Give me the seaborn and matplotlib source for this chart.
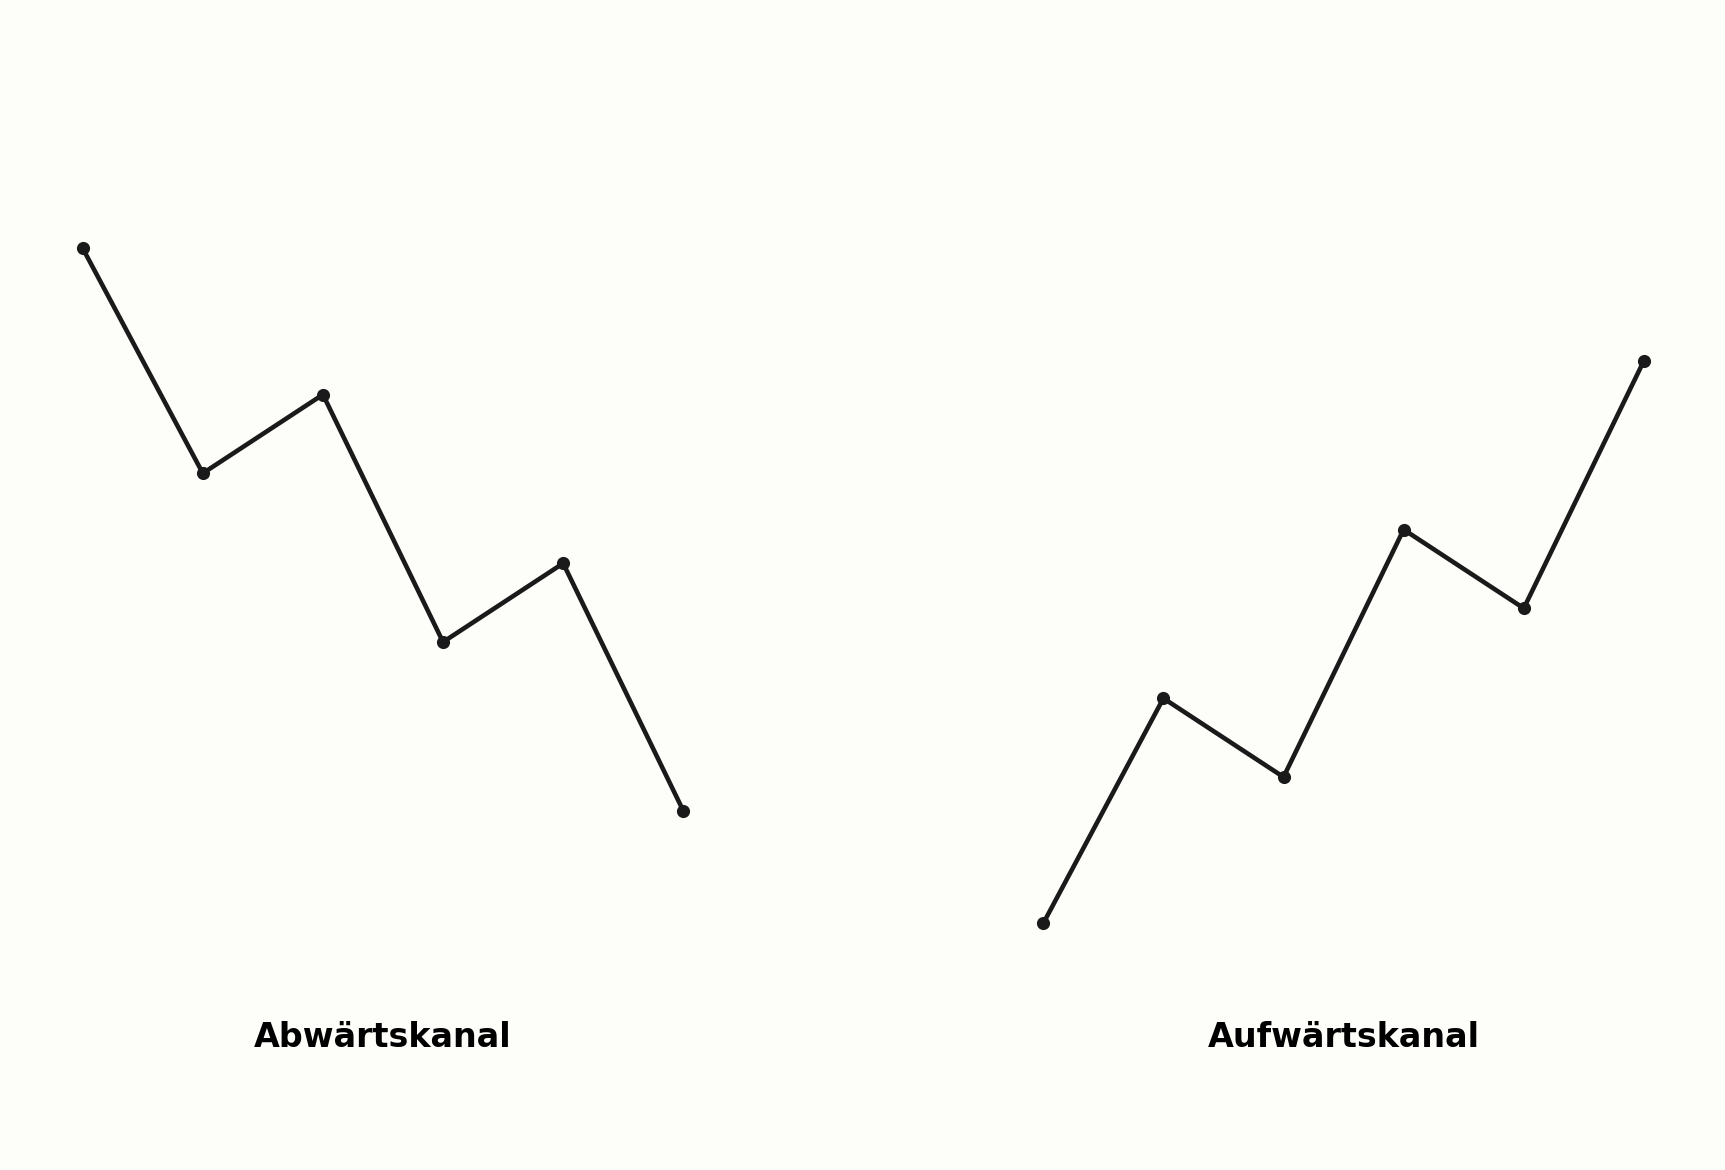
import matplotlib
matplotlib.use("Agg")
import matplotlib.pyplot as plt
import seaborn as sns

# Data
steps = [0, 1, 2, 3, 4, 5]
down_values = [10, 6, 7.4, 3, 4.4, 0]
up_values = [-2, 2, 0.6, 5, 3.6, 8]
titles = ["Abwärtskanal", "Aufwärtskanal"]

bg = "#fdfdfa"
ink = "#1a1a1a"

sns.set_style("white")
plt.rcParams["font.family"] = ["DejaVu Sans"]

fig = plt.figure(figsize=(11.5, 7.8), dpi=150, facecolor=bg)

ax_w = 0.34817
ax_b = 0.16279
ax_h = 0.67306
lefts = [0.04794, 0.60481]

for left, values, title in zip(lefts, [down_values, up_values], titles):
    ax = fig.add_axes([left, ax_b, ax_w, ax_h])
    ax.set_facecolor(bg)
    sns.lineplot(
        x=steps, y=values, ax=ax,
        color=ink, linewidth=2.2,
        marker="o", markersize=5.5, markeredgecolor=ink, markeredgewidth=0.8
    )
    ax.set_xlim(0, 5)
    ax.set_ylim(-3, 11)
    ax.axis("off")
    for line in ax.lines:
        line.set_clip_on(False)
    fig.text(left + ax_w / 2, 0.1051, title, ha="center", va="baseline",
             fontsize=16, fontweight="bold", color="black")

fig.savefig("out.png", dpi=150, facecolor=bg)
